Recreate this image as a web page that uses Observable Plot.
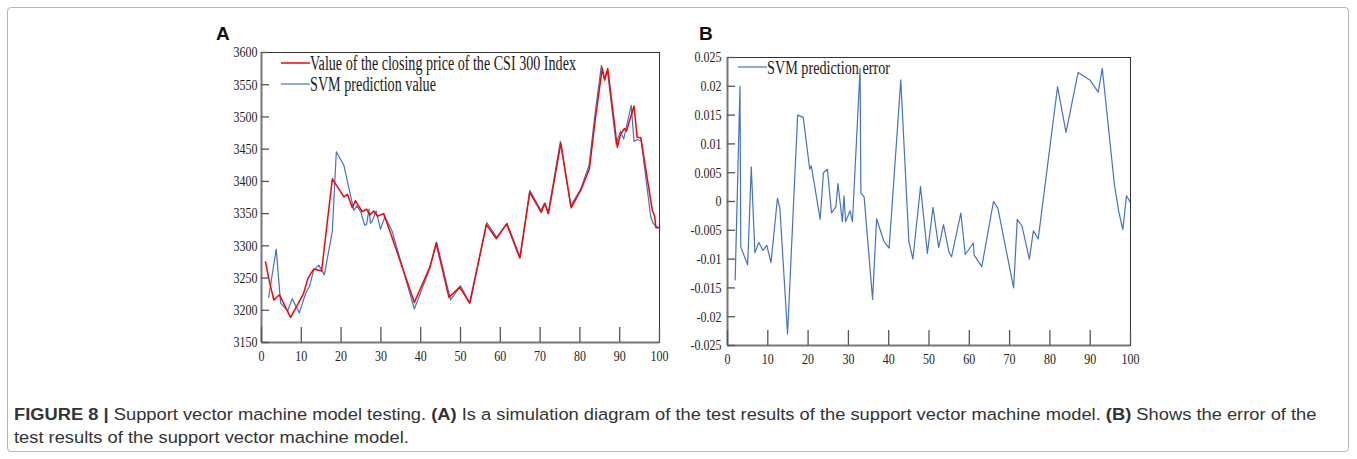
<!DOCTYPE html>
<html>
<head>
<meta charset="utf-8">
<script src="https://cdn.jsdelivr.net/npm/d3@7"></script>
<script src="https://cdn.jsdelivr.net/npm/@observablehq/plot@0.6"></script>
<style>
html, body { margin: 0; padding: 0; background: #fff; }
#root { position: relative; width: 1357px; height: 459px; overflow: hidden; background: #fff; }
.border { position: absolute; left: 7px; top: 7px; width: 1342px; height: 445px; border: 1px solid #b5b5b5; border-radius: 4px; box-sizing: border-box; }
.panel { position: absolute; }
#overlay { position: absolute; left: 0; top: 0; }
</style>
</head>
<body>
<div id="root">
  <div class="border"></div>
  <div class="panel" id="panelA" style="left:200px; top:40px;"></div>
  <div class="panel" id="panelB" style="left:670px; top:40px;"></div>
</div>
<script>
// ---------- DATA ----------
const xTicks = [0, 10, 20, 30, 40, 50, 60, 70, 80, 90, 100];
const xDomain = [0, 100];

const yDomainA = [3150, 3600];
const yTicksA = [3150, 3200, 3250, 3300, 3350, 3400, 3450, 3500, 3550, 3600];

const yDomainB = [-0.025, 0.025];
const yTicksB = [-0.025, -0.02, -0.015, -0.01, -0.005, 0, 0.005, 0.01, 0.015, 0.02, 0.025];

// Panel A: closing price of CSI 300 (actual)
const actualX = [1, 2, 3.1, 4.5, 7.3, 9, 10.5, 11.7, 13.1, 15.1, 17.8, 20.7, 21.6, 22.8, 23.6, 25.3, 26.4, 27.2, 28.2, 29.1, 30.7, 33.7, 38.4, 42.3, 43.9, 47.1, 49.8, 52.3, 56.5, 59.0, 61.6, 64.9, 67.4, 70.3, 71.2, 72.1, 75.2, 77.8, 80.2, 82.4, 83.9, 85.6, 86.2, 87.0, 89.4, 90.2, 91.2, 91.7, 93.6, 94.4, 95.3, 98.2, 98.8, 99.1, 100];
const actualY = [3275, 3244, 3216, 3224, 3189, 3208, 3225, 3250, 3264, 3261, 3404, 3376, 3380, 3359, 3370, 3353, 3357, 3348, 3354, 3346, 3350, 3297, 3212, 3267, 3304, 3220, 3236, 3211, 3333, 3311, 3334, 3281, 3383, 3352, 3366, 3350, 3459, 3359, 3386, 3420, 3498, 3575, 3557, 3575, 3453, 3473, 3482, 3478, 3517, 3468, 3468, 3355, 3345, 3328, 3328];

// Panel A: SVM prediction value
const predX = [1.8, 3.7, 4.8, 6.6, 7.7, 9.5, 11.1, 12.1, 13.1, 14.4, 15.8, 17.8, 18.8, 20.7, 23.2, 24.0, 25.0, 25.9, 26.4, 27.0, 27.4, 27.8, 28.8, 29.9, 31.0, 32.8, 38.4, 42.3, 44.0, 47.5, 50.0, 52.4, 56.6, 59.1, 61.7, 65.0, 67.4, 70.2, 71.1, 72.0, 75.1, 77.7, 80.2, 82.3, 83.8, 85.4, 86.2, 86.9, 89.1, 90.2, 91.0, 92.9, 93.6, 94.4, 95.4, 97.8, 98.4, 99.2, 100];
const predY = [3220, 3295, 3211, 3199, 3218, 3196, 3226, 3238, 3262, 3270, 3255, 3323, 3446, 3425, 3355, 3362, 3352, 3332, 3333, 3357, 3335, 3338, 3354, 3326, 3345, 3323, 3202, 3265, 3306, 3216, 3238, 3211, 3336, 3313, 3335, 3282, 3386, 3355, 3366, 3350, 3462, 3362, 3388, 3425, 3505, 3580, 3560, 3572, 3458, 3478, 3466, 3518, 3462, 3465, 3463, 3345, 3335, 3330, 3328];

// Panel B: SVM prediction error
const errX = [1.9, 3.1, 3.3, 5.0, 5.9, 6.8, 7.8, 8.8, 9.75, 10.8, 12.4, 13.0, 14.9, 17.4, 18.8, 20.4, 20.8, 23.0, 23.8, 24.8, 25.8, 26.9, 27.4, 28.5, 28.9, 29.3, 30.4, 31.0, 32.9, 33.1, 33.9, 36.0, 37.0, 38.8, 40.1, 43.0, 45.0, 46.0, 47.9, 49.6, 51.0, 52.4, 53.6, 55.0, 55.6, 57.9, 59.0, 61.0, 61.2, 63.1, 66.0, 67.1, 71.0, 71.9, 73.1, 74.9, 75.9, 77.1, 81.9, 84.0, 87.0, 89.9, 92.0, 93.0, 96.0, 97.1, 98.1, 99.0, 100];
const errY = [-0.0136, 0.0200, -0.0079, -0.0110, 0.0060, -0.0089, -0.0071, -0.0085, -0.0076, -0.0106, 0.0006, -0.0012, -0.0230, 0.0150, 0.0146, 0.0056, 0.0062, -0.0031, 0.0050, 0.0056, -0.0020, -0.0009, 0.0031, -0.0035, 0.0010, -0.0035, -0.0016, -0.0035, 0.0231, 0.0014, 0.0008, -0.0170, -0.0030, -0.0069, -0.0081, 0.0211, -0.0069, -0.0100, 0.0026, -0.0090, -0.0010, -0.0080, -0.0040, -0.0089, -0.0096, -0.0020, -0.0092, -0.0072, -0.0093, -0.0113, 0.0000, -0.0012, -0.0150, -0.0031, -0.0043, -0.0100, -0.0051, -0.0065, 0.0199, 0.0120, 0.0224, 0.0211, 0.0190, 0.0231, 0.0030, -0.0018, -0.0049, 0.0010, -0.0002];

const legendA = ["Value of the closing price of the CSI 300 Index", "SVM prediction value"];
const legendB = ["SVM prediction error"];
const colorActual = "#ff0000";
const colorPred = "#4472c4";

// ---------- BUILD ----------
const actualA = actualX.map((x, i) => ({x, y: actualY[i]}));
const predA = predX.map((x, i) => ({x, y: predY[i]}));
const errB = errX.map((x, i) => ({x, y: errY[i]}));

const fmt = d => String(d);
const baseStyle = {background: "transparent", fontFamily: "'Liberation Serif', 'Times New Roman', serif", fontSize: "15px", color: "#222", overflow: "visible"};

function frameMarks(yDomain, yTicks, xPad, yPad) {
  return [
    Plot.frame({stroke: "#333", strokeWidth: 1}),
    Plot.ruleX([xDomain[0]], {stroke: "#777", strokeWidth: 2}),
    Plot.ruleY([yDomain[0]], {stroke: "#777", strokeWidth: 2}),
    Plot.axisX({ticks: xTicks, tickSize: 0, tickPadding: xPad, tickFormat: fmt, label: null}),
    Plot.axisY({ticks: yTicks, tickSize: 0, tickPadding: yPad, tickFormat: fmt, label: null}),
    Plot.axisX({ticks: xTicks, tickSize: 15, dy: -15, tickFormat: () => "", stroke: "#555", strokeWidth: 1.3, label: null}),
    Plot.axisY({ticks: yTicks, tickSize: 8, dx: 8, tickFormat: () => "", stroke: "#555", strokeWidth: 1.3, label: null})
  ];
}

const plotA = Plot.plot({
  width: 480, height: 330,
  marginLeft: 61, marginRight: 21, marginTop: 12, marginBottom: 28,
  style: baseStyle,
  x: {domain: xDomain, label: null},
  y: {domain: yDomainA, label: null},
  marks: [
    Plot.line(predA, {x: "x", y: "y", stroke: colorPred, strokeWidth: 1.2}),
    Plot.line(actualA, {x: "x", y: "y", stroke: colorActual, strokeWidth: 1.5}),
    ...frameMarks(yDomainA, yTicksA, 8, 4)
  ]
});
document.getElementById("panelA").appendChild(plotA);

const plotB = Plot.plot({
  width: 480, height: 330,
  marginLeft: 57, marginRight: 20, marginTop: 17, marginBottom: 25,
  style: baseStyle,
  x: {domain: xDomain, label: null},
  y: {domain: yDomainB, label: null},
  marks: [
    Plot.line(errB, {x: "x", y: "y", stroke: colorPred, strokeWidth: 1.2}),
    ...frameMarks(yDomainB, yTicksB, 8, 6)
  ]
});
document.getElementById("panelB").appendChild(plotB);

// condense tick labels (the original uses narrow serif digits)
for (const svg of [plotA, plotB]) {
  svg.querySelectorAll("text").forEach(t => {
    if (t.textContent.length) {
      const L = t.getComputedTextLength();
      t.setAttribute("textLength", (L * 0.8).toFixed(2));
      t.setAttribute("lengthAdjust", "spacingAndGlyphs");
    }
  });
}

// ---------- OVERLAY: legends, panel letters, caption ----------
const ov = d3.select("#root").append("svg").attr("id", "overlay").attr("width", 1357).attr("height", 459);

function legendRow(x0, y, color, sw, label, fontSize, textLen, baselineOff) {
  ov.append("line").attr("x1", x0).attr("x2", x0 + 29).attr("y1", y).attr("y2", y)
    .attr("stroke", color).attr("stroke-width", sw);
  ov.append("text").attr("x", x0 + 29).attr("y", y + baselineOff)
    .attr("font-family", "'Liberation Serif', 'Times New Roman', serif")
    .attr("font-size", fontSize).attr("fill", "#1a1a1a")
    .attr("textLength", textLen).attr("lengthAdjust", "spacingAndGlyphs")
    .text(label);
}
legendRow(281, 63, colorActual, 1.5, legendA[0], 20, 266, 7);
legendRow(281, 84, colorPred, 1.2, legendA[1], 20, 126, 6.5);
legendRow(738, 67, colorPred, 1.2, legendB[0], 19, 123, 6.5);

ov.append("text").attr("x", 216).attr("y", 40).attr("font-family", "'Liberation Sans', Arial, sans-serif")
  .attr("font-weight", "bold").attr("font-size", 19).attr("fill", "#111").text("A");
ov.append("text").attr("x", 699).attr("y", 40).attr("font-family", "'Liberation Sans', Arial, sans-serif")
  .attr("font-weight", "bold").attr("font-size", 19).attr("fill", "#111").text("B");

const capFont = "'Liberation Sans', Arial, sans-serif";
const cap1 = ov.append("text").attr("font-family", capFont).attr("font-size", 17).attr("fill", "#333");
cap1.append("tspan").attr("font-weight", "bold").text("FIGURE 8 | ");
cap1.append("tspan").text("Support vector machine model testing. ");
cap1.append("tspan").attr("font-weight", "bold").text("(A)");
cap1.append("tspan").text(" Is a simulation diagram of the test results of the support vector machine model. ");
cap1.append("tspan").attr("font-weight", "bold").text("(B)");
cap1.append("tspan").text(" Shows the error of the");
const cap2 = ov.append("text").attr("font-family", capFont).attr("font-size", 17).attr("fill", "#333")
  .text("test results of the support vector machine model.");
const L1 = cap1.node().getComputedTextLength();
const f = 1304 / L1;
cap1.attr("transform", `translate(14,420) scale(${f},1)`);
cap2.attr("transform", `translate(14,443) scale(${f},1)`);
</script>
</body>
</html>
